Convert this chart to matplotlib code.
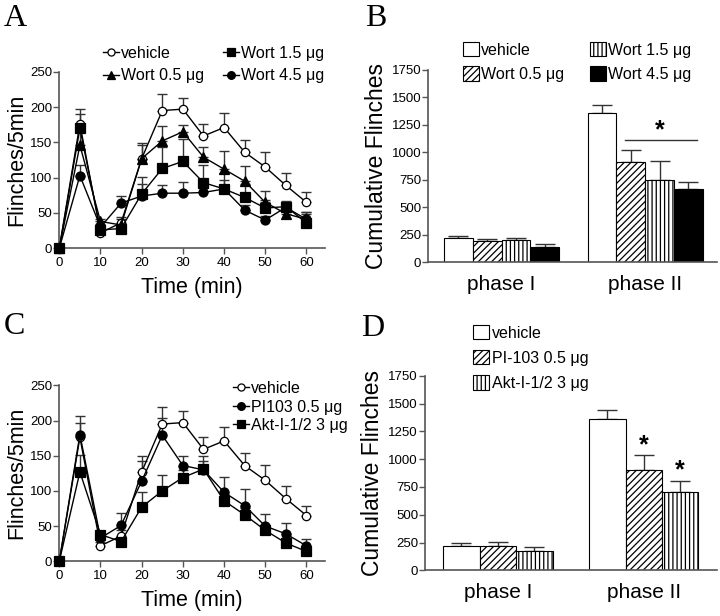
import numpy as np
import matplotlib
matplotlib.use("Agg")
import matplotlib.pyplot as plt

plt.rcParams['font.family'] = ['Liberation Sans', 'DejaVu Sans']
plt.rcParams['hatch.linewidth'] = 0.9

# ---------------- data ----------------
time = [0, 5, 10, 15, 20, 25, 30, 35, 40, 45, 50, 55, 60]

vehicle = [0, 176, 22, 36, 127, 195, 197, 159, 171, 136, 115, 89, 65]
vehicle_err = [0, 21, 5, 8, 22, 24, 16, 17, 20, 18, 22, 18, 14]

wort05 = [0, 146, 38, 33, 127, 152, 165, 129, 112, 95, 65, 49, 41]
wort05_err = [0, 25, 4, 8, 19, 21, 10, 15, 26, 21, 16, 8, 10]

wort15 = [0, 170, 26, 28, 77, 113, 123, 93, 84, 72, 57, 59, 36]
wort15_err = [0, 20, 5, 6, 24, 30, 32, 25, 23, 19, 12, 8, 12]

wort45 = [0, 103, 30, 64, 74, 78, 78, 79, 84, 54, 40, 58, 41]
wort45_err = [0, 15, 5, 10, 17, 12, 16, 10, 12, 8, 6, 8, 10]

pi103 = [0, 180, 33, 51, 114, 179, 136, 130, 98, 79, 50, 39, 22]
pi103_err = [0, 26, 6, 17, 28, 24, 14, 12, 22, 23, 17, 15, 9]

akt = [0, 127, 38, 28, 77, 100, 119, 131, 86, 66, 44, 26, 14]
akt_err = [0, 24, 5, 6, 21, 22, 10, 19, 10, 10, 8, 6, 5]

phases = ['phase I', 'phase II']
labels_B = ['vehicle', 'Wort 0.5 μg', 'Wort 1.5 μg', 'Wort 4.5 μg']
cum_B = [[218, 194, 200, 140], [1356, 916, 749, 664]]
cum_B_err = [[25, 18, 24, 27], [79, 106, 173, 64]]

labels_D = ['vehicle', 'PI-103 0.5 μg', 'Akt-I-1/2 3 μg']
cum_D = [[222, 216, 171], [1360, 905, 704]]
cum_D_err = [[24, 36, 36], [78, 129, 99]]

# ---------------- figure ----------------
W, H = 720, 616
fig = plt.figure(figsize=(W / 100, H / 100), dpi=100)

def axes_px(x0, y0, x1, y1):
    return fig.add_axes([x0 / W, 1 - y1 / H, (x1 - x0) / W, (y1 - y0) / H])

spine_col = '#555555'

def style(ax):
    for s in ['top', 'right']:
        ax.spines[s].set_visible(False)
    for s in ['left', 'bottom']:
        ax.spines[s].set_color(spine_col)
        ax.spines[s].set_linewidth(1.2)
    ax.tick_params(axis='both', colors=spine_col, labelcolor='black',
                   labelsize=9.5, length=4, width=1.0, direction='out')

def line_panel(ax, series):
    for y, e, mk, mfc in series:
        ax.errorbar(time, y, yerr=[np.zeros(len(e)), e], fmt='none',
                    ecolor='#333333', elinewidth=1.0, capsize=3.5,
                    capthick=1.0, zorder=2, clip_on=False)
    handles = []
    for y, e, mk, mfc in series:
        h, = ax.plot(time, y, '-', color='black', lw=1.0, marker=mk,
                     ms=6.5 if mk != 'o' or mfc == 'black' else 6,
                     mfc=mfc, mec='black', mew=0.9, zorder=3, clip_on=False)
        handles.append(h)
    ax.set_xlim(0, 64.5)
    ax.set_ylim(0, 250)
    ax.set_xticks(range(0, 61, 10))
    ax.set_yticks(range(0, 251, 50))
    ax.set_xlabel('Time (min)', fontsize=15.5, labelpad=6)
    ax.set_ylabel('Flinches/5min', fontsize=15.5, labelpad=2)
    style(ax)
    ax.tick_params(axis='x', pad=2)
    ax.tick_params(axis='y', pad=1)
    return handles

# Panel A
axA = axes_px(59.3, 71.7, 325, 248.3)
hA = line_panel(axA, [(vehicle, vehicle_err, 'o', 'white'),
                      (wort05, wort05_err, '^', 'black'),
                      (wort15, wort15_err, 's', 'black'),
                      (wort45, wort45_err, 'o', 'black')])
axA.legend([hA[0], hA[1], hA[2], hA[3]],
           ['vehicle', 'Wort 0.5 μg', 'Wort 1.5 μg', 'Wort 4.5 μg'],
           ncol=2, loc='upper left', bbox_to_anchor=((103 - 59.3) / 265.7, (248.3 - 46) / 176.6),
           frameon=False, fontsize=11.5, handlelength=1.0, handletextpad=0.15,
           columnspacing=1.15, labelspacing=0.45, borderpad=0, borderaxespad=0,
           markerscale=0.85)

# Panel C
axC = axes_px(59.3, 385.3, 325, 561.3)
hC = line_panel(axC, [(vehicle, vehicle_err, 'o', 'white'),
                      (pi103, pi103_err, 'o', 'black'),
                      (akt, akt_err, 's', 'black')])
axC.legend(hC, ['vehicle', 'PI103 0.5 μg', 'Akt-I-1/2 3 μg'],
           loc='upper left', bbox_to_anchor=((233 - 59.3) / 265.7, (561.3 - 381) / 176),
           frameon=False, fontsize=11.5, handlelength=1.0, handletextpad=0.15,
           labelspacing=0.22, borderpad=0, borderaxespad=0, markerscale=0.85)

def bar_panel(ax, vals, errs, labels, hatches, colors, width):
    n = len(labels)
    x = np.arange(len(phases))
    handles = []
    for i in range(n):
        xi = x + (i - (n - 1) / 2) * width
        v = [vals[p][i] for p in range(len(phases))]
        e = [errs[p][i] for p in range(len(phases))]
        b = ax.bar(xi, v, width, color=colors[i], edgecolor='black',
                   linewidth=0.8, hatch=hatches[i], zorder=2)
        ax.errorbar(xi, v, yerr=[np.zeros(len(e)), e], fmt='none',
                    ecolor='#333333', elinewidth=1.0, capsize=7.5,
                    capthick=1.0, zorder=1)
        handles.append(b)
    ax.set_ylim(0, 1750)
    ax.set_yticks(range(0, 1751, 250))
    ax.set_xticks(x)
    style(ax)
    ax.set_xticklabels(phases, fontsize=15)
    ax.set_ylabel('Cumulative Flinches', fontsize=16.5, labelpad=3)
    ax.tick_params(axis='x', length=0, pad=9)
    ax.tick_params(axis='y', pad=1)
    return handles

# Panel B
axB = axes_px(428.3, 70, 717, 262.3)
hB = bar_panel(axB, cum_B, cum_B_err, labels_B,
               [None, '/////', '||||', None],
               ['white', 'white', 'white', 'black'], 0.2)
axB.set_xlim(-0.51, 1.5)
axB.legend([hB[0], hB[1], hB[2], hB[3]], labels_B, ncol=2,
           loc='upper left', bbox_to_anchor=((462.7 - 428.3) / 288.7, (262.3 - 42) / 192.3),
           frameon=False, fontsize=11.5, handlelength=1.0, handleheight=1.0,
           handletextpad=0.15, columnspacing=1.6, labelspacing=0.55,
           borderpad=0, borderaxespad=0)
axB.plot([0.86, 1.36], [1113, 1113], color='#333333', lw=1.0)
axB.text(1.1, 1200, '*', ha='center', va='center', fontsize=18, fontweight='bold')

# Panel D
axD = axes_px(425, 375.7, 716.7, 570.3)
hD = bar_panel(axD, cum_D, cum_D_err, labels_D,
               [None, '/////', '||||'],
               ['white', 'white', 'white'], 0.25)
axD.set_xlim(-0.5, 1.5)
axD.legend(hD, labels_D, loc='upper left',
           bbox_to_anchor=((473.3 - 425) / 291.7, (570.3 - 325) / 194.6),
           frameon=False, fontsize=11.5, handlelength=1.0, handleheight=1.0,
           handletextpad=0.15, labelspacing=0.6, borderpad=0, borderaxespad=0)
axD.text(1.0, 1125, '*', ha='center', va='center', fontsize=18, fontweight='bold')
axD.text(1.25, 900, '*', ha='center', va='center', fontsize=18, fontweight='bold')

# panel letters
for lab, (px, py) in {'A': (4, 4), 'B': (365, 4), 'C': (4, 312), 'D': (361, 314)}.items():
    fig.text(px / W, 1 - py / H, lab, fontsize=23, family='Liberation Serif',
             ha='left', va='top')

fig.savefig('out.png', dpi=100)
